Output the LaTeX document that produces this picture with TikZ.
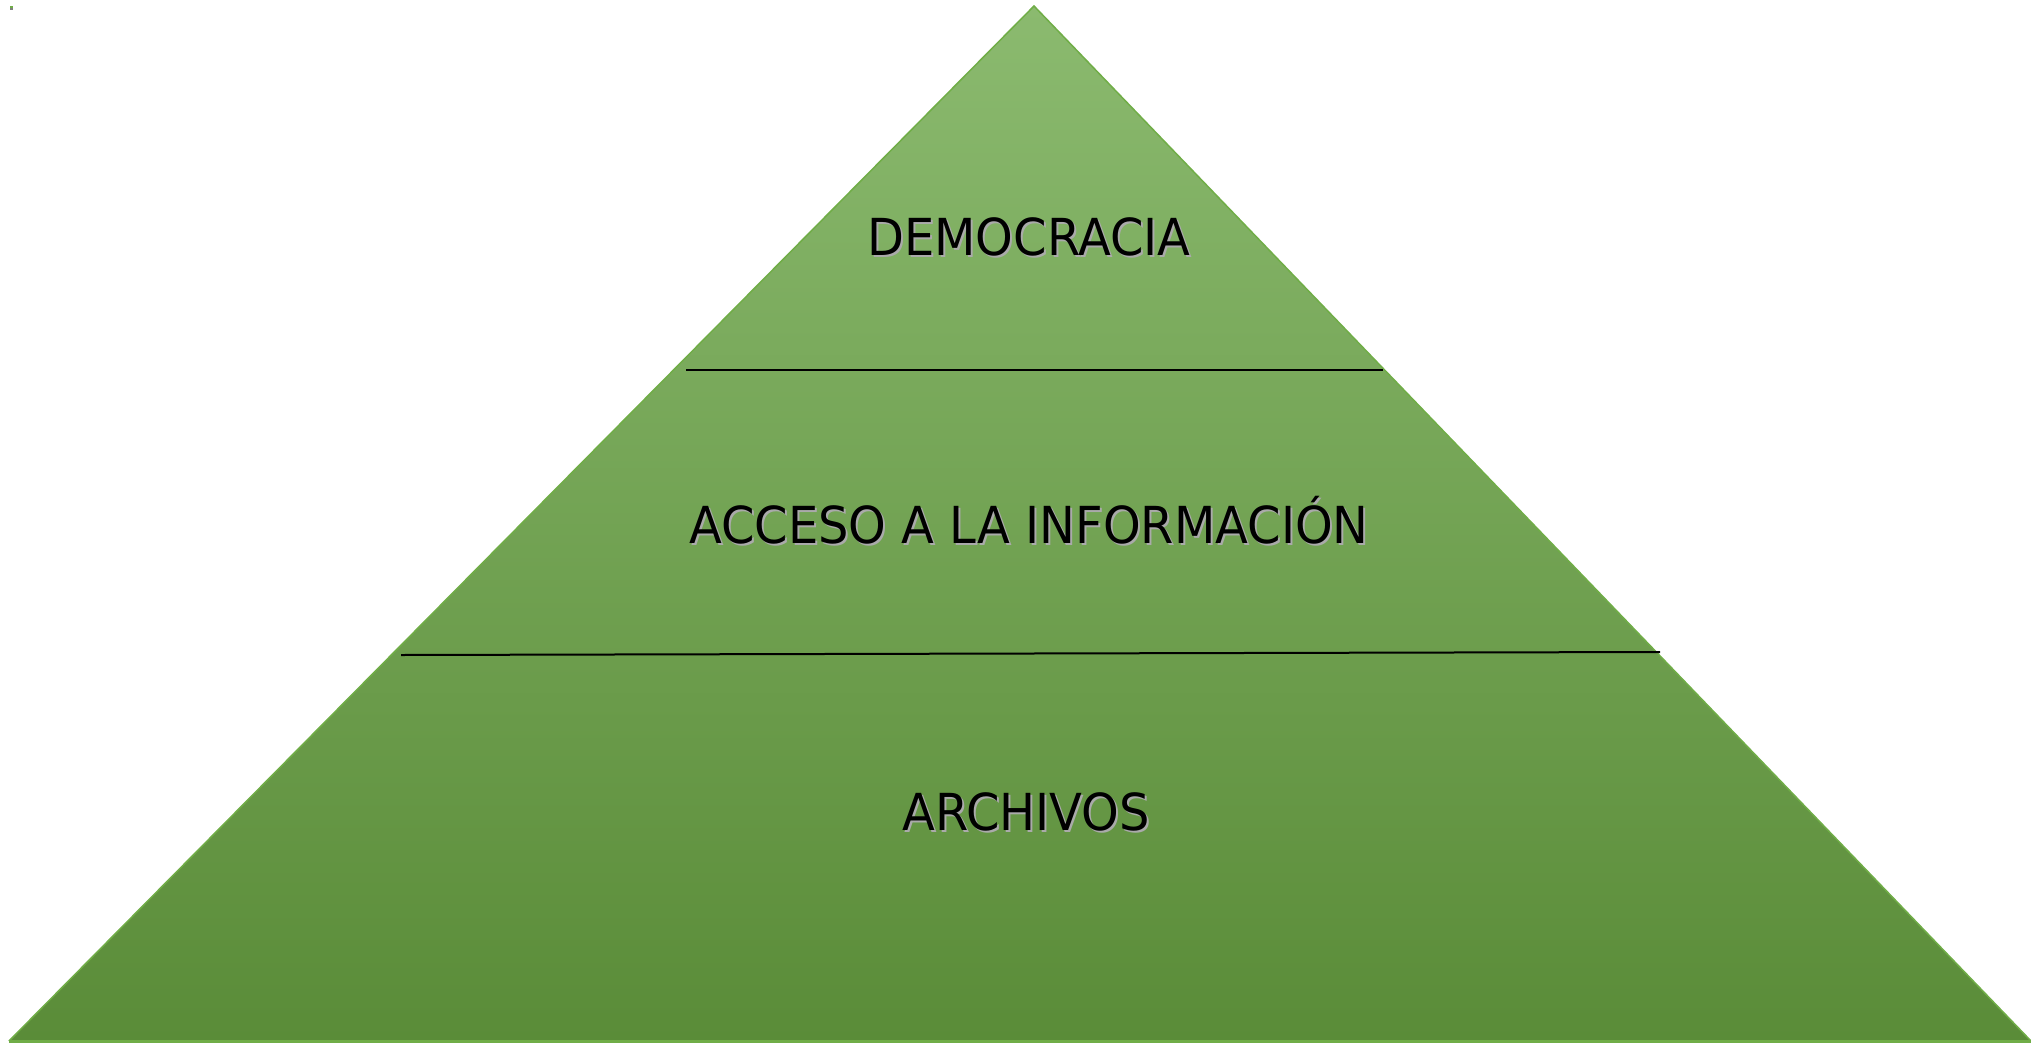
\documentclass[tikz,border=0pt]{standalone}
\usepackage{fontspec}
\setmainfont{DejaVu Sans}
\definecolor{topgreen}{RGB}{139,186,111}
\definecolor{botgreen}{RGB}{90,140,56}
\definecolor{edgegreen}{RGB}{112,173,71}
\definecolor{shadowgray}{RGB}{170,170,170}
\newcommand{\pyrtxt}[1]{\scalebox{0.94}[1]{#1}}
\tikzset{
  layerline/.style={draw=black,line width=2pt},
  lbl/.style={anchor=base,inner sep=0pt,font=\fontsize{51}{60}\selectfont,text=black},
  lblshadow/.style={anchor=base,inner sep=0pt,font=\fontsize{51}{60}\selectfont,text=shadowgray}
}
\begin{document}
\begin{tikzpicture}[x=1pt,y=-1pt]
\useasboundingbox (0,0) rectangle (2031,1044);
% tiny mark
\fill[edgegreen] (10,6) rectangle (13,8);
\fill[gray] (10,8) rectangle (13,10);
% pyramid
\coordinate (apex) at (1034,6);
\coordinate (bl) at (9,1041);
\coordinate (br) at (2031,1041);
\shade[top color=topgreen,bottom color=botgreen] (apex) -- (br) -- (bl) -- cycle;
\draw[edgegreen,line width=1.5pt,line join=miter] (bl) -- (apex) -- (br);
\draw[edgegreen,line width=3pt] (bl) -- (br);
% layer lines
\coordinate (l1a) at (686,370);
\coordinate (l1b) at (1383,370);
\coordinate (l2a) at (401,655);
\coordinate (l2b) at (1660,652);
\draw[layerline] (l1a) -- (l1b);
\draw[layerline] (l2a) -- (l2b);
% labels
\node[lblshadow] (t1s) at (1031,257) {\pyrtxt{DEMOCRACIA}};
\node[lbl] (t1) at (1029,255) {\pyrtxt{DEMOCRACIA}};
\node[lblshadow] (t2s) at (1031,545) {\pyrtxt{ACCESO A LA INFORMACIÓN}};
\node[lbl] (t2) at (1029,543) {\pyrtxt{ACCESO A LA INFORMACIÓN}};
\node[lblshadow] (t3s) at (1028,832) {\pyrtxt{ARCHIVOS}};
\node[lbl] (t3) at (1026,830) {\pyrtxt{ARCHIVOS}};
\end{tikzpicture}
\end{document}
